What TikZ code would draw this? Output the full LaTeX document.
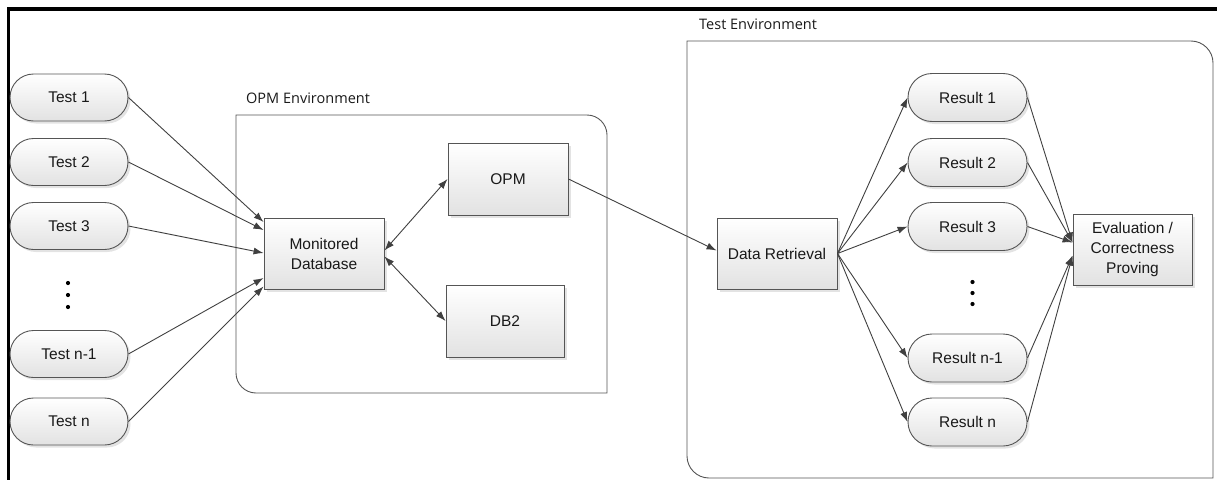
\documentclass[tikz,border=0pt]{standalone}
\usepackage{fontspec}
\setmainfont{Liberation Sans}
\newfontfamily\envfont{Open Sans}
\usetikzlibrary{shapes.misc,shadows,arrows.meta}
\definecolor{edgecol}{HTML}{404040}
\definecolor{nodeline}{HTML}{555555}
\definecolor{nodebot}{HTML}{E2E2E2}
\begin{document}
\begin{tikzpicture}[x=1pt,y=-1pt,
  box/.style={draw=nodeline, line width=0.9pt, top color=white, bottom color=nodebot,
    drop shadow={shadow xshift=2.5pt,shadow yshift=-2.5pt,opacity=0.22,fill=gray},
    font=\fontsize{15.5}{20}\selectfont, align=center, inner sep=0pt, text=black!90},
  rectbox/.style={box, rectangle, minimum width=120pt, minimum height=71pt},
  pill/.style={box, rounded rectangle, minimum width=119pt, minimum height=48pt},
  conn/.style={draw=edgecol, line width=0.9pt, -{Latex[length=10pt,width=7pt]}},
  biconn/.style={draw=edgecol, line width=0.9pt, {Latex[length=10pt,width=7pt]}-{Latex[length=10pt,width=7pt]}},
  env/.style={draw=nodeline, line width=0.9pt},
  envlabel/.style={font=\envfont\fontsize{14.5}{17}\selectfont, anchor=west, inner sep=0pt, text=black!90},
  vdot/.style={fill=black, circle, inner sep=0pt, minimum size=4.2pt}
]
\useasboundingbox (0,0) rectangle (1217,479);

% outer frame (top and left edges)
\draw[line width=3.8pt, black] (8.5,481) -- (8.5,8.7) -- (1219,8.7);

% environment boxes
\draw[env] (236,115) -- (587,115) .. controls (598,115) and (607,124) .. (607,135)
  -- (607,393) -- (256,393) .. controls (245,393) and (236,384) .. (236,373) -- cycle;
\node[envlabel] (opmlab) at (246,98) {OPM Environment};

\draw[env] (687,41) -- (1191,41) .. controls (1203.1,41) and (1213,50.9) .. (1213,63)
  -- (1213,478) -- (709,478) .. controls (696.9,478) and (687,468.1) .. (687,456) -- cycle;
\node[envlabel] (testlab) at (699,24) {Test Environment};

% tests
\node[pill, minimum width=118pt, minimum height=47pt] (t1) at (69,97.5) {Test 1};
\node[pill, minimum width=118pt, minimum height=47pt] (t2) at (69,162) {Test 2};
\node[pill, minimum width=118pt, minimum height=47pt] (t3) at (69,226) {Test 3};
\node[pill, minimum width=118pt, minimum height=47pt] (tn1) at (69,354) {Test n-1};
\node[pill, minimum width=118pt, minimum height=47pt] (tn) at (69,421.5) {Test n};
\node[vdot] (td1) at (68,283) {};
\node[vdot] (td2) at (68,295) {};
\node[vdot] (td3) at (68,307) {};

% OPM environment content
\node[rectbox] (md) at (324,253.5) {Monitored\\Database};
\node[rectbox, minimum height=72pt] (opm) at (508,179) {OPM};
\node[rectbox, minimum width=118pt, minimum height=72pt] (db2) at (505,321) {DB2};

% test environment content
\node[rectbox] (dr) at (777,253.5) {Data Retrieval};
\node[pill] (r1) at (967.5,97.5) {Result 1};
\node[pill] (r2) at (967.5,162.5) {Result 2};
\node[pill] (r3) at (967.5,226.5) {Result 3};
\node[pill] (rn1) at (967.5,358) {Result n-1};
\node[pill] (rn) at (967.5,422) {Result n};
\node[vdot] (rd1) at (972.5,282) {};
\node[vdot] (rd2) at (972.5,293) {};
\node[vdot] (rd3) at (972.5,304) {};
\node[rectbox, minimum width=119pt] (ev) at (1132.5,249.5) {Evaluation /\\Correctness\\Proving};

% connectors: tests -> monitored database
\draw[conn] (t1.east) -- ([yshift=31.5pt]md.west);
\draw[conn] (t2.east) -- ([yshift=23.5pt]md.west);
\draw[conn] (t3.east) -- ([yshift=0.5pt]md.west);
\draw[conn] (tn1.east) -- ([yshift=-24.5pt]md.west);
\draw[conn] (tn.east) -- ([yshift=-33pt]md.west);

% monitored database <-> OPM / DB2
\draw[biconn] ([yshift=3pt]md.east) -- (opm.west);
\draw[biconn] ([yshift=-3pt]md.east) -- (db2.west);

% OPM -> data retrieval
\draw[conn] (opm.east) -- ([yshift=3pt]dr.west);

% data retrieval -> results
\draw[conn] (dr.east) -- (r1.west);
\draw[conn] (dr.east) -- (r2.west);
\draw[conn] (dr.east) -- (r3.west);
\draw[conn] (dr.east) -- (rn1.west);
\draw[conn] (dr.east) -- (rn.west);

% results -> evaluation
\draw[conn] (r1.east) -- ([yshift=7pt]ev.west);
\draw[conn] (r2.east) -- ([yshift=7pt]ev.west);
\draw[conn] (r3.east) -- ([yshift=7pt]ev.west);
\draw[conn] (rn1.east) -- ([yshift=-6pt]ev.west);
\draw[conn] (rn.east) -- ([yshift=-6pt]ev.west);
\end{tikzpicture}
\end{document}
